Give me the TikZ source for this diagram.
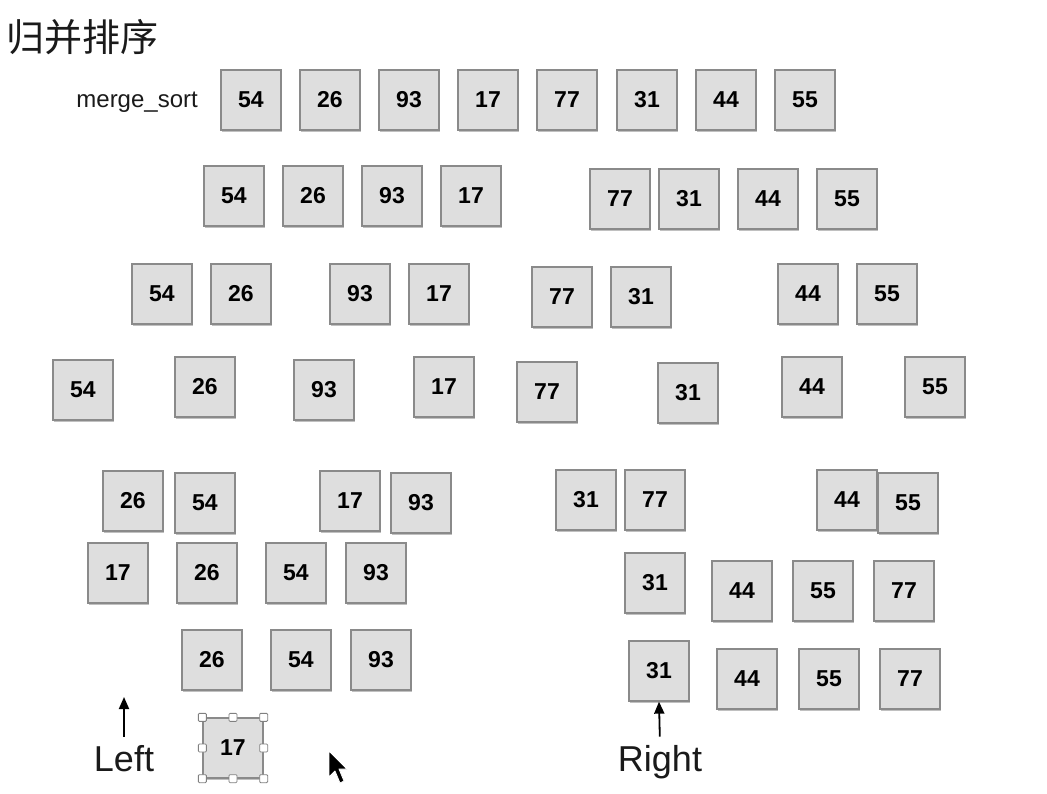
\documentclass[tikz,border=0pt]{standalone}
\usepackage{fontspec}
\setmainfont{Liberation Sans}
\newfontfamily\cjk{Noto Sans CJK SC}
\usetikzlibrary{shadows,arrows.meta}
\definecolor{boxfill}{HTML}{DEDEDE}
\definecolor{boxborder}{HTML}{8A8A8A}
\definecolor{txt}{HTML}{1A1A1A}
\tikzset{
  box/.style={draw=boxborder, line width=1.3pt, fill=boxfill, minimum width=60pt, minimum height=60pt,
    inner sep=0pt, text=black, font=\fontsize{23}{25}\selectfont\bfseries,
    drop shadow={shadow xshift=0.8pt, shadow yshift=-2.2pt, opacity=0.35, fill=black!70}},
  lbl/.style={inner sep=0pt, text=txt, font=\fontsize{36}{40}\selectfont},
  handle/.style={draw=gray, fill=white, line width=0.8pt, minimum size=8pt, inner sep=0pt, rounded corners=1pt},
  ptr/.style={-{Triangle[length=12pt,width=10pt]}, line width=1.8pt, draw=black, shorten <=8pt}
}
\newcommand{\bx}[4]{\node[box] (#1) at (#2,#3) {#4};}
\begin{document}
\begin{tikzpicture}[x=1pt,y=-1pt]
\useasboundingbox (0,0) rectangle (1047,794);
\fill[white] (0,0) rectangle (1047,794);
% title
\node[anchor=west, inner sep=0pt, text=txt, font=\cjk\fontsize{38}{42}\selectfont] (title) at (6,37) {归并排序};
\node[anchor=base east, inner sep=0pt, text=txt, font=\fontsize{24}{28}\selectfont] (ms) at (198,108) {merge\_sort};
% row 1
\bx{a1}{251}{100}{54}
\bx{a2}{330}{100}{26}
\bx{a3}{409}{100}{93}
\bx{a4}{488}{100}{17}
\bx{a5}{567}{100}{77}
\bx{a6}{647}{100}{31}
\bx{a7}{726}{100}{44}
\bx{a8}{805}{100}{55}
% row 2
\bx{b1}{234}{196}{54}
\bx{b2}{313}{196}{26}
\bx{b3}{392}{196}{93}
\bx{b4}{471}{196}{17}
\bx{b5}{620}{199}{77}
\bx{b6}{689}{199}{31}
\bx{b7}{768}{199}{44}
\bx{b8}{847}{199}{55}
% row 3
\bx{c1}{162}{294}{54}
\bx{c2}{241}{294}{26}
\bx{c3}{360}{294}{93}
\bx{c4}{439}{294}{17}
\bx{c5}{562}{297}{77}
\bx{c6}{641}{297}{31}
\bx{c7}{808}{294}{44}
\bx{c8}{887}{294}{55}
% row 4
\bx{d1}{83}{390}{54}
\bx{d2}{205}{387}{26}
\bx{d3}{324}{390}{93}
\bx{d4}{444}{387}{17}
\bx{d5}{547}{392}{77}
\bx{d6}{688}{393}{31}
\bx{d7}{812}{387}{44}
\bx{d8}{935}{387}{55}
% row 5
\bx{e1}{133}{501}{26}
\bx{e2}{205}{503}{54}
\bx{e3}{350}{501}{17}
\bx{e4}{421}{503}{93}
\bx{e5}{586}{500}{31}
\bx{e6}{655}{500}{77}
\bx{e7}{847}{500}{44}
\bx{e8}{908}{503}{55}
% row 6
\bx{f1}{118}{573}{17}
\bx{f2}{207}{573}{26}
\bx{f3}{296}{573}{54}
\bx{f4}{376}{573}{93}
\bx{f5}{655}{583}{31}
\bx{f6}{742}{591}{44}
\bx{f7}{823}{591}{55}
\bx{f8}{904}{591}{77}
% row 7
\bx{g2}{212}{660}{26}
\bx{g3}{301}{660}{54}
\bx{g4}{381}{660}{93}
\bx{g5}{659}{671}{31}
\bx{g6}{747}{679}{44}
\bx{g7}{829}{679}{55}
\bx{g8}{910}{679}{77}
% selected 17
\bx{s17}{233}{748}{17}
\foreach \a [count=\i] in {north west,north,north east,east,south east,south,south west,west}
  \node[handle] (h\i) at (s17.\a) {};
% labels and pointers
\node[lbl, anchor=base] (left) at (124,771) {Left};
\node[lbl, anchor=base] (right) at (660,771) {Right};
\coordinate (lt) at (124,697);
\draw[ptr] (left.north) -- (lt);
\draw[ptr] (right.north) -- (g5.south);
% mouse cursor
\filldraw[fill=black, draw=white, line width=0.8pt, line join=round]
  (329,751) -- (329,777) -- (335,771) -- (340,783) -- (344,781) -- (339,769) -- (347,769) -- cycle;
\end{tikzpicture}
\end{document}
